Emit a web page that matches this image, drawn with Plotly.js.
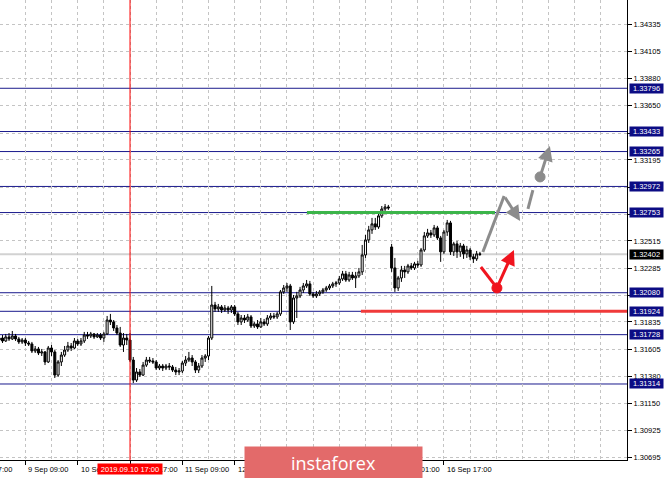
<!DOCTYPE html>
<html><head><meta charset="utf-8">
<script src="https://cdn.plot.ly/plotly-3.0.1.min.js"></script>
<style>html,body{margin:0;padding:0;background:#fff;}#chart{width:665px;height:478px;}</style>
</head><body><div id="chart"></div>
<script>
// ---- DATA (H1 candles) ----
const opens = [1.31683,1.31700,1.31675,1.31709,1.31692,1.31717,1.31692,1.31667,1.31683,1.31658,
1.31650,1.31591,1.31608,1.31574,1.31583,1.31499,1.31616,1.31583,1.31389,1.31499,
1.31557,1.31599,1.31633,1.31616,1.31675,1.31650,1.31675,1.31725,1.31717,1.31734,
1.31709,1.31725,1.31700,1.31734,1.31851,1.31835,1.31784,1.31742,1.31641,1.31700,
1.31683,1.31515,1.31347,1.31415,1.31389,1.31473,1.31515,1.31507,1.31499,1.31448,
1.31465,1.31448,1.31465,1.31457,1.31431,1.31415,1.31423,1.31490,1.31515,1.31532,
1.31499,1.31431,1.31465,1.31532,1.31549,1.31700,1.31977,1.31944,1.31961,1.31935,
1.31952,1.31935,1.31961,1.31902,1.31835,1.31868,1.31851,1.31877,1.31801,1.31818,
1.31793,1.31835,1.31818,1.31868,1.31885,1.31877,1.31902,1.32087,1.32120,1.32137,
1.31835,1.32036,1.32053,1.32103,1.32137,1.32154,1.32070,1.32053,1.32070,1.32087,
1.32103,1.32120,1.32137,1.32154,1.32162,1.32196,1.32238,1.32187,1.32229,1.32204,
1.32221,1.32255,1.32397,1.32523,1.32607,1.32658,1.32632,1.32725,1.32783,1.32800,
1.32464,1.32288,1.32120,1.32204,1.32271,1.32255,1.32305,1.32288,1.32322,1.32313,
1.32439,1.32557,1.32582,1.32565,1.32624,1.32540,1.32423,1.32590,1.32666,1.32423,
1.32490,1.32423,1.32473,1.32406,1.32439,1.32381,1.32364,1.32406];
const highs = [1.31717,1.31725,1.31734,1.31742,1.31759,1.31734,1.31709,1.31700,1.31700,1.31675,
1.31667,1.31633,1.31625,1.31608,1.31591,1.31633,1.31641,1.31599,1.31515,1.31583,
1.31633,1.31667,1.31658,1.31700,1.31692,1.31700,1.31751,1.31751,1.31751,1.31742,
1.31742,1.31742,1.31751,1.31885,1.31902,1.31851,1.31809,1.31793,1.31742,1.31734,
1.31742,1.31541,1.31448,1.31440,1.31499,1.31541,1.31541,1.31532,1.31515,1.31482,
1.31482,1.31482,1.31490,1.31473,1.31457,1.31448,1.31507,1.31549,1.31583,1.31557,
1.31515,1.31490,1.31557,1.31565,1.31717,1.32137,1.32003,1.31986,1.31977,1.31977,
1.31969,1.31977,1.31977,1.31919,1.31893,1.31893,1.31902,1.31893,1.31835,1.31851,
1.31868,1.31860,1.31893,1.31910,1.31910,1.31919,1.32103,1.32145,1.32162,1.32154,
1.32061,1.32087,1.32129,1.32162,1.32187,1.32179,1.32087,1.32095,1.32103,1.32120,
1.32137,1.32154,1.32171,1.32179,1.32221,1.32263,1.32263,1.32255,1.32255,1.32255,
1.32288,1.32481,1.32565,1.32641,1.32708,1.32708,1.32758,1.32808,1.32825,1.32817,
1.32490,1.32372,1.32221,1.32305,1.32305,1.32322,1.32330,1.32339,1.32347,1.32456,
1.32590,1.32616,1.32607,1.32649,1.32641,1.32557,1.32607,1.32691,1.32683,1.32507,
1.32515,1.32498,1.32490,1.32473,1.32456,1.32406,1.32431,1.32423];
const lows = [1.31658,1.31658,1.31667,1.31675,1.31683,1.31675,1.31650,1.31650,1.31633,1.31633,
1.31574,1.31574,1.31557,1.31549,1.31473,1.31490,1.31549,1.31364,1.31373,1.31465,
1.31541,1.31583,1.31591,1.31608,1.31633,1.31633,1.31658,1.31692,1.31700,1.31692,
1.31700,1.31683,1.31667,1.31725,1.31809,1.31759,1.31725,1.31625,1.31583,1.31641,
1.31499,1.31322,1.31331,1.31373,1.31381,1.31457,1.31490,1.31482,1.31431,1.31431,
1.31423,1.31431,1.31431,1.31415,1.31389,1.31389,1.31406,1.31465,1.31499,1.31465,
1.31406,1.31406,1.31448,1.31499,1.31515,1.31683,1.31919,1.31919,1.31910,1.31919,
1.31902,1.31910,1.31885,1.31809,1.31809,1.31826,1.31835,1.31784,1.31784,1.31776,
1.31784,1.31801,1.31801,1.31851,1.31860,1.31860,1.31885,1.32070,1.32087,1.31767,
1.31818,1.31868,1.32036,1.32078,1.32120,1.32053,1.32036,1.32036,1.32053,1.32070,
1.32087,1.32103,1.32120,1.32129,1.32145,1.32179,1.32171,1.32171,1.32187,1.32120,
1.32204,1.32229,1.32372,1.32498,1.32574,1.32607,1.32616,1.32708,1.32766,1.32775,
1.32255,1.32087,1.32095,1.32171,1.32204,1.32238,1.32271,1.32271,1.32288,1.32297,
1.32423,1.32540,1.32540,1.32548,1.32523,1.32339,1.32406,1.32557,1.32397,1.32389,
1.32372,1.32381,1.32364,1.32372,1.32355,1.32330,1.32347,1.32389];
const closes = [1.31700,1.31675,1.31709,1.31692,1.31717,1.31692,1.31667,1.31683,1.31658,1.31650,
1.31591,1.31608,1.31574,1.31583,1.31499,1.31616,1.31583,1.31389,1.31499,1.31557,
1.31599,1.31633,1.31616,1.31675,1.31650,1.31675,1.31725,1.31717,1.31734,1.31709,
1.31725,1.31700,1.31734,1.31851,1.31835,1.31784,1.31742,1.31641,1.31700,1.31683,
1.31515,1.31347,1.31415,1.31389,1.31473,1.31515,1.31507,1.31499,1.31448,1.31465,
1.31448,1.31465,1.31457,1.31431,1.31415,1.31423,1.31490,1.31515,1.31532,1.31499,
1.31431,1.31465,1.31532,1.31549,1.31700,1.31977,1.31944,1.31961,1.31935,1.31952,
1.31935,1.31961,1.31902,1.31835,1.31868,1.31851,1.31877,1.31801,1.31818,1.31793,
1.31835,1.31818,1.31868,1.31885,1.31877,1.31902,1.32087,1.32120,1.32137,1.31835,
1.32036,1.32053,1.32103,1.32137,1.32154,1.32070,1.32053,1.32070,1.32087,1.32103,
1.32120,1.32137,1.32154,1.32162,1.32196,1.32238,1.32187,1.32229,1.32204,1.32221,
1.32255,1.32397,1.32523,1.32607,1.32658,1.32632,1.32725,1.32783,1.32800,1.32792,
1.32288,1.32120,1.32204,1.32271,1.32255,1.32305,1.32288,1.32322,1.32313,1.32439,
1.32557,1.32582,1.32565,1.32624,1.32540,1.32423,1.32590,1.32666,1.32423,1.32490,
1.32423,1.32473,1.32406,1.32439,1.32381,1.32364,1.32406,1.32402];

const xTickIdx = [8, 24, 40, 56, 72, 88, 104, 120, 136];
// labels fully covered by the logo banner in the reference are left blank
const xTickText = ["9 Sep 09:00", "10 Sep 01:00", "10 Sep 17:00", "11 Sep 09:00", "12 Sep 01:00", "", "", "16 Sep 01:00", "16 Sep 17:00"];
const leftCutLabel = "8 Sep 17:00";
const yTickVals = [1.34335,1.34105,1.33880,1.33650,1.33420,1.33195,1.32965,1.32740,1.32515,1.32285,1.32060,1.31835,1.31605,1.31380,1.31150,1.30925,1.30695];
// tick labels hidden behind level boxes in the reference
const yTickHidden = [1.33420, 1.32965, 1.32740, 1.32060];
const levels = [1.33796,1.33433,1.33265,1.32972,1.32753,1.32080,1.31924,1.31728,1.31314];
const currentPrice = 1.32402;
const markerIdx = 40;
const markerText = "2019.09.10 17:00";
const greenLevel = 1.32753, greenFrom = 94.1, greenTo = 151.6;
const redLevel = 1.31924, redFrom = 110.6;
// forecast drawing (bar index, price)
const grayPath = [[147.9, 1.32422], [154.4, 1.32892], [159.3, 1.32682]];
const grayDash = [[161.7, 1.32783], [163.2, 1.32942]];
const grayDot = [165.4, 1.33052], grayTip = [168.4, 1.33312];
const redStart = [147.3, 1.32296], redDot = [152.2, 1.32120], redTip = [157.4, 1.32439];

const xRange = [0.24, 191.98];
const yRange = [1.30676, 1.34537];
const bars = opens.map((_, i) => i);

const FONT = "Liberation Sans, Arial, sans-serif";
const NAVY = "#1a1a8c", GRAY = "#8c8c8c", RED = "#f0141e";

const shapes = [];
levels.forEach(v => shapes.push({type:'line', xref:'paper', x0:0, x1:1, yref:'y', y0:v, y1:v, layer:'between', line:{color:NAVY, width:1}}));
shapes.push({type:'line', xref:'paper', x0:0, x1:1, yref:'y', y0:currentPrice, y1:currentPrice, layer:'between', line:{color:'#d2d2d2', width:2}});
shapes.push({type:'line', xref:'x', x0:markerIdx, x1:markerIdx, yref:'paper', y0:0, y1:1, layer:'above', line:{color:'#ff0000', width:1}});
shapes.push({type:'line', xref:'x', x0:greenFrom, x1:greenTo, yref:'y', y0:greenLevel, y1:greenLevel, layer:'above', line:{color:'#3cb54a', width:3}});
shapes.push({type:'line', xref:'x', x0:redFrom, x1:xRange[1], yref:'y', y0:redLevel, y1:redLevel, layer:'above', line:{color:'#f03a3a', width:3}});
shapes.push({type:'line', xref:'x', yref:'y', x0:grayPath[0][0], y0:grayPath[0][1], x1:grayPath[1][0], y1:grayPath[1][1], layer:'above', line:{color:GRAY, width:3}});
shapes.push({type:'line', xref:'x', yref:'y', x0:grayDash[0][0], y0:grayDash[0][1], x1:grayDash[1][0], y1:grayDash[1][1], layer:'above', line:{color:GRAY, width:3}});
shapes.push({type:'line', xref:'x', yref:'y', x0:redStart[0], y0:redStart[1], x1:redDot[0], y1:redDot[1], layer:'above', line:{color:RED, width:3}});
function dot(p, c){ return {type:'circle', xref:'x', yref:'y', xsizemode:'pixel', ysizemode:'pixel', xanchor:p[0], yanchor:p[1], x0:-5, x1:5, y0:-5, y1:5, fillcolor:c, line:{color:c, width:1}, layer:'above'}; }
shapes.push(dot(grayDot, GRAY));
shapes.push(dot(redDot, RED));

const annotations = [];
annotations.push({xref:'paper', x:14/627, xanchor:'right', yref:'paper', y:-0.0196, yanchor:'middle', text:leftCutLabel, showarrow:false, font:{family:FONT, size:7.5, color:'#000'}});
xTickIdx.forEach((v, i) => { if (xTickText[i]) annotations.push({xref:'x', x:v, xanchor:'left', xshift:1, yref:'paper', y:-0.0196, yanchor:'middle', text:xTickText[i], showarrow:false, font:{family:FONT, size:7.5, color:'#000'}}); });
annotations.push({xref:'x', x:markerIdx, xanchor:'center', yref:'paper', y:-0.0196, yanchor:'middle', text:markerText, showarrow:false, bgcolor:'#ff0000', borderpad:0, width:64, height:10, font:{family:FONT, size:7.5, color:'#fff'}});
annotations.push({xref:'paper', x:0.5319, xanchor:'center', yref:'paper', y:-0.0054, yanchor:'middle', text:'instaforex', showarrow:false, bgcolor:'#e36a6a', borderpad:0, width:177, height:31, font:{family:'Open Sans, sans-serif', size:18, color:'#fff'}});
levels.forEach(v => annotations.push({xref:'paper', x:1, xanchor:'left', xshift:2, yref:'y', y:v, yanchor:'middle', text:v.toFixed(5), showarrow:false, bgcolor:'#0c0c84', borderpad:0, width:33, height:9, font:{family:FONT, size:7.5, color:'#fff'}}));
annotations.push({xref:'paper', x:1, xanchor:'left', xshift:2, yref:'y', y:currentPrice, yanchor:'middle', text:currentPrice.toFixed(5), showarrow:false, bgcolor:'#000', borderpad:0, width:33, height:9, font:{family:FONT, size:7.5, color:'#fff'}});
function arrow(from, to, c){ return {xref:'x', yref:'y', axref:'x', ayref:'y', x:to[0], y:to[1], ax:from[0], ay:from[1], text:'', showarrow:true, arrowhead:2, arrowsize:1, arrowwidth:3, arrowcolor:c, standoff:0, startstandoff:0}; }
annotations.push(arrow(grayPath[1], grayPath[2], GRAY));
annotations.push(arrow(grayDot, grayTip, GRAY));
annotations.push(arrow(redDot, redTip, RED));

const trace = {
  type:'candlestick', x:bars, open:opens, high:highs, low:lows, close:closes,
  increasing:{line:{color:'#000', width:1}, fillcolor:'#ffffff'},
  decreasing:{line:{color:'#000', width:1}, fillcolor:'#000000'},
  whiskerwidth:0, hoverinfo:'skip', showlegend:false
};

const layout = {
  width:665, height:478, margin:{l:0, r:38, t:0, b:18},
  paper_bgcolor:'#fff', plot_bgcolor:'#fff', showlegend:false, hovermode:false, boxgap:0.12,
  xaxis:{range:xRange, showline:true, linecolor:'#000', linewidth:1, ticks:'outside', ticklen:4, tickcolor:'#000',
    tickmode:'array', tickvals:xTickIdx, showticklabels:false, showgrid:true, gridcolor:'#c4c4c4', griddash:'3px,3px', gridwidth:1,
    minor:{dtick:8, tick0:0, showgrid:true, gridcolor:'#c4c4c4', griddash:'3px,3px', ticks:''},
    zeroline:false, rangeslider:{visible:false}, fixedrange:true},
  yaxis:{side:'right', range:yRange, showline:true, linecolor:'#000', linewidth:1, ticks:'outside', ticklen:4, tickcolor:'#000',
    tickmode:'array', tickvals:yTickVals, ticktext:yTickVals.map(v => yTickHidden.includes(v) ? '' : v.toFixed(5)), tickfont:{family:FONT, size:7.5, color:'#000'},
    showgrid:true, gridcolor:'#c4c4c4', griddash:'3px,3px', gridwidth:1, zeroline:false, fixedrange:true},
  shapes:shapes, annotations:annotations
};

Plotly.newPlot('chart', [trace], layout, {displayModeBar:false, staticPlot:true});
</script></body></html>
